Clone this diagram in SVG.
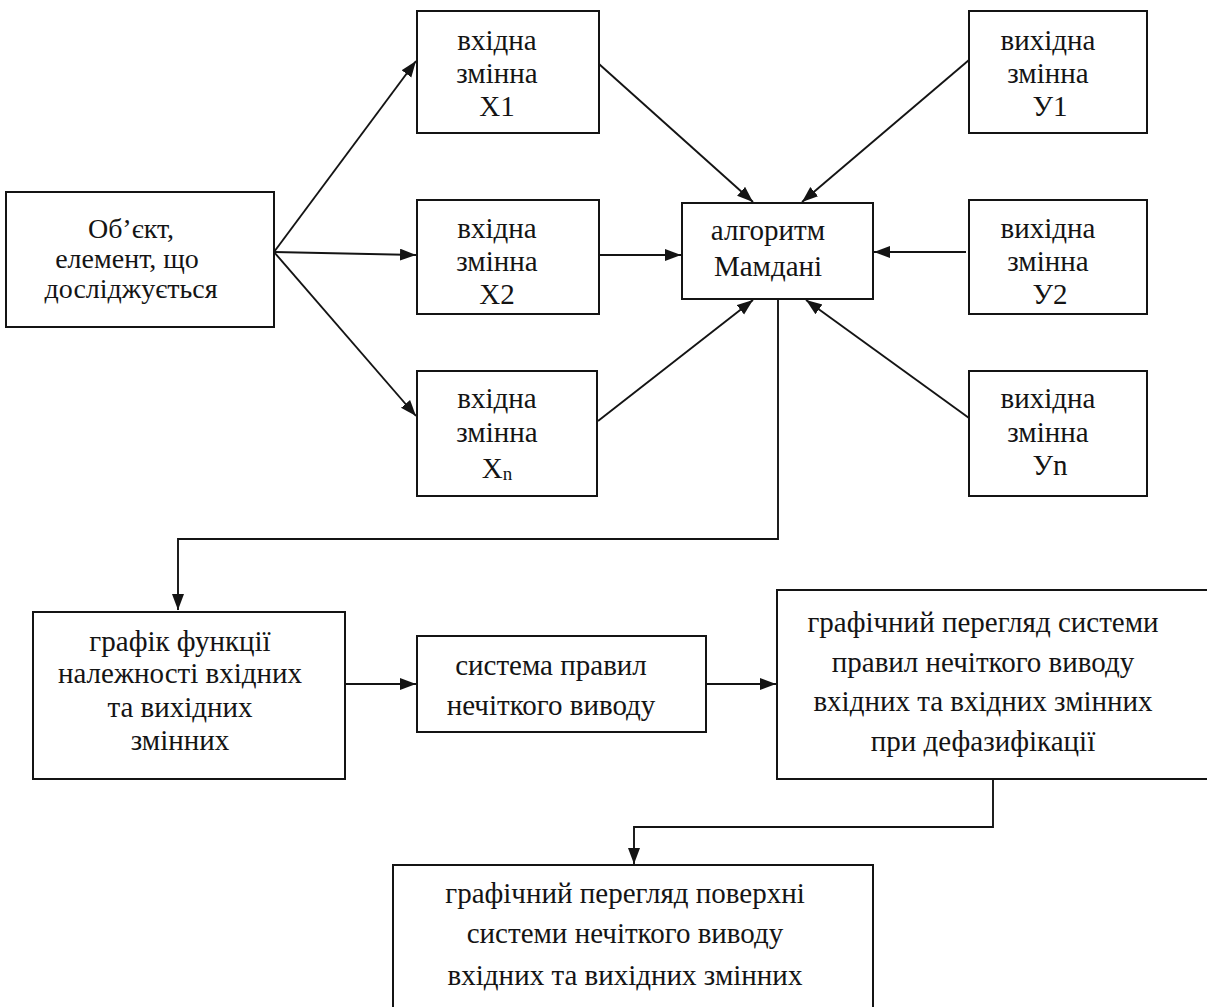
<svg xmlns="http://www.w3.org/2000/svg" width="1207" height="1007" viewBox="0 0 1207 1007">
  <style>
    .box { fill: #ffffff; stroke: #141414; stroke-width: 2; }
    .lbl { font-family: "Liberation Serif", "Times New Roman", "DejaVu Serif", serif; font-size: 29px; fill: #141414; text-anchor: middle; }
    .tight { font-size: 28px; }
    .sub { font-size: 19px; }
    .edge { fill: none; stroke: #141414; stroke-width: 1.9; }
  </style>
  <defs>
    <marker id="arrow" markerUnits="userSpaceOnUse" markerWidth="17" markerHeight="13" refX="16" refY="6" orient="auto">
      <path d="M0,0 L16,6 L0,12 Z" fill="#141414"/>
    </marker>
  </defs>
  <rect width="1207" height="1007" fill="#ffffff"/>

  <!-- connectors -->
  <g id="connectors">
    <line class="edge" x1="274" y1="252" x2="416" y2="61" marker-end="url(#arrow)"/>
    <line class="edge" x1="274" y1="252" x2="416" y2="255" marker-end="url(#arrow)"/>
    <line class="edge" x1="274" y1="252" x2="416" y2="416" marker-end="url(#arrow)"/>
    <line class="edge" x1="599" y1="64" x2="753" y2="202" marker-end="url(#arrow)"/>
    <line class="edge" x1="599" y1="255" x2="681" y2="255" marker-end="url(#arrow)"/>
    <line class="edge" x1="598" y1="421" x2="753" y2="300" marker-end="url(#arrow)"/>
    <line class="edge" x1="969" y1="60" x2="802" y2="202" marker-end="url(#arrow)"/>
    <line class="edge" x1="966" y1="252" x2="874" y2="252" marker-end="url(#arrow)"/>
    <line class="edge" x1="969" y1="418" x2="806" y2="300" marker-end="url(#arrow)"/>
    <polyline class="edge" points="778,299 778,539 178,539 178,610" marker-end="url(#arrow)"/>
    <line class="edge" x1="345" y1="684" x2="416" y2="684" marker-end="url(#arrow)"/>
    <line class="edge" x1="706" y1="684" x2="776" y2="684" marker-end="url(#arrow)"/>
    <polyline class="edge" points="993,779 993,827 634,827 634,864" marker-end="url(#arrow)"/>
  </g>

  <g id="object">
    <rect class="box" x="6" y="192" width="268" height="135"/>
    <text class="lbl tight" x="131" y="238">Об’єкт,</text>
    <text class="lbl tight" x="127" y="268">елемент, що</text>
    <text class="lbl tight" x="131" y="298">досліджується</text>
  </g>

  <g id="input-x1">
    <rect class="box" x="417" y="11" width="182" height="122"/>
    <text class="lbl" x="497" y="50">вхідна</text>
    <text class="lbl" x="497" y="83">змінна</text>
    <text class="lbl" x="497" y="116">X1</text>
  </g>

  <g id="input-x2">
    <rect class="box" x="417" y="200" width="182" height="114"/>
    <text class="lbl" x="497" y="238">вхідна</text>
    <text class="lbl" x="497" y="271">змінна</text>
    <text class="lbl" x="497" y="304">X2</text>
  </g>

  <g id="input-xn">
    <rect class="box" x="417" y="371" width="180" height="125"/>
    <text class="lbl" x="497" y="408">вхідна</text>
    <text class="lbl" x="497" y="442">змінна</text>
    <text class="lbl" x="497" y="478">X<tspan class="sub" dy="2">n</tspan></text>
  </g>

  <g id="mamdani">
    <rect class="box" x="682" y="203" width="191" height="96"/>
    <text class="lbl" x="768" y="240">алгоритм</text>
    <text class="lbl" x="768" y="276">Мамдані</text>
  </g>

  <g id="output-y1">
    <rect class="box" x="969" y="11" width="178" height="122"/>
    <text class="lbl" x="1048" y="50">вихідна</text>
    <text class="lbl" x="1048" y="83">змінна</text>
    <text class="lbl" x="1050" y="116">У1</text>
  </g>

  <g id="output-y2">
    <rect class="box" x="969" y="200" width="178" height="114"/>
    <text class="lbl" x="1048" y="238">вихідна</text>
    <text class="lbl" x="1048" y="271">змінна</text>
    <text class="lbl" x="1050" y="304">У2</text>
  </g>

  <g id="output-yn">
    <rect class="box" x="969" y="371" width="178" height="125"/>
    <text class="lbl" x="1048" y="408">вихідна</text>
    <text class="lbl" x="1048" y="442">змінна</text>
    <text class="lbl" x="1050" y="475">Уn</text>
  </g>

  <g id="membership-plot">
    <rect class="box" x="33" y="612" width="312" height="167"/>
    <text class="lbl" x="180" y="651">графік функції</text>
    <text class="lbl" x="180" y="683">належності вхідних</text>
    <text class="lbl" x="180" y="717">та вихідних</text>
    <text class="lbl" x="180" y="750">змінних</text>
  </g>

  <g id="rule-system">
    <rect class="box" x="417" y="636" width="289" height="96"/>
    <text class="lbl" x="551" y="675">система правил</text>
    <text class="lbl" x="551" y="715">нечіткого виводу</text>
  </g>

  <g id="rule-viewer">
    <rect class="box" x="777" y="590" width="450" height="189"/>
    <text class="lbl" x="983" y="632">графічний перегляд системи</text>
    <text class="lbl" x="983" y="672">правил нечіткого виводу</text>
    <text class="lbl" x="983" y="711">вхідних та вхідних змінних</text>
    <text class="lbl" x="983" y="751">при дефазифікації</text>
  </g>

  <g id="surface-viewer">
    <rect class="box" x="393" y="865" width="480" height="160"/>
    <text class="lbl" x="625" y="903">графічний перегляд поверхні</text>
    <text class="lbl" x="625" y="943">системи нечіткого виводу</text>
    <text class="lbl" x="625" y="985">вхідних та вихідних змінних</text>
  </g>
</svg>
